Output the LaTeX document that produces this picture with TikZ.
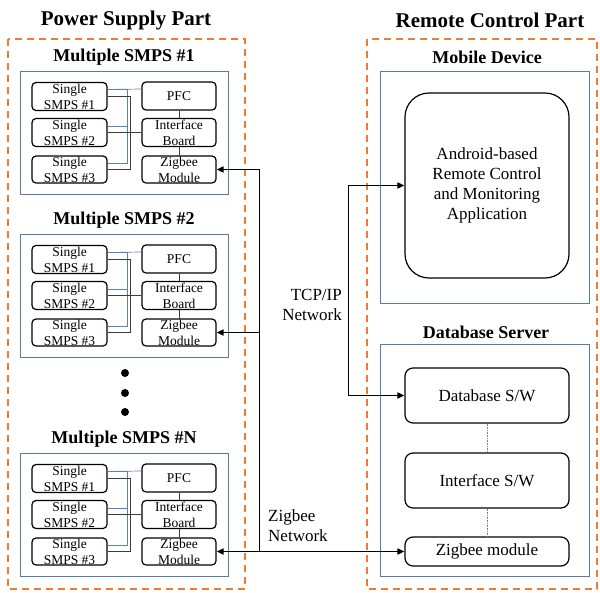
\documentclass[tikz,border=0pt]{standalone}
\usepackage{fontspec}
\setmainfont{Liberation Serif}
\usetikzlibrary{arrows.meta}
\definecolor{partorange}{RGB}{237,125,49}
\definecolor{frameblue}{RGB}{88,122,165}
\definecolor{wireblue}{RGB}{95,125,195}
\definecolor{wiregray}{RGB}{60,60,60}
\tikzset{
  part/.style={draw=partorange, line width=1.8pt, dash pattern=on 7pt off 5pt},
  frame/.style={draw=frameblue, line width=0.9pt},
  unitbox/.style={draw, rounded corners=4pt, line width=1.2pt, minimum width=75pt,
    minimum height=28pt, inner sep=0pt, align=center,
    font=\fontsize{13.5}{16}\selectfont},
  swbox/.style={draw, rounded corners=8pt, line width=1.2pt, minimum width=164pt,
    inner sep=0pt, align=center, font=\fontsize{17}{20}\selectfont},
  parttitle/.style={font=\bfseries\fontsize{21}{24}\selectfont},
  grouptitle/.style={font=\bfseries\fontsize{18}{21}\selectfont},
  nettext/.style={font=\fontsize{17}{20}\selectfont, inner sep=0pt},
  wireb/.style={draw=wireblue, line width=0.7pt},
  wireg/.style={draw=wiregray, line width=0.8pt},
  link/.style={line width=1.7pt},
  tip/.style={-{Triangle[length=7pt,width=6pt]}},
  tips/.style={{Triangle[length=7pt,width=6pt]}-{Triangle[length=7pt,width=6pt]}},
  dbwire/.style={draw=gray, line width=0.6pt, densely dotted},
  dot/.style={circle, fill, inner sep=0pt, minimum size=8pt}
}
\begin{document}
\begin{tikzpicture}[x=1pt,y=-1pt]
\useasboundingbox (0,0) rectangle (600,592);

% the two parts
\draw[part] (8,39) rectangle (245,589);
\draw[part] (367,39) rectangle (597,589);
\node[parttitle] (pstitle) at (126,20) {Power Supply Part};
\node[parttitle] (rctitle) at (490,20) {Remote Control Part};

% multiple SMPS groups: top edge, title suffix, name
\foreach \T/\lab/\g in {71/1/1, 234/2/2, 453/N/N}{
  \draw[frame] (20,\T) rectangle (228,\T+123);
  \node[grouptitle] (title-\g) at (124,\T-14) {Multiple SMPS \#\lab};
  \node[unitbox] (s1-\g) at (69.5,\T+25.5) {Single\\SMPS \#1};
  \node[unitbox] (s2-\g) at (69.5,\T+61.5) {Single\\SMPS \#2};
  \node[unitbox, minimum height=27pt] (s3-\g) at (69.5,\T+98.5) {Single\\SMPS \#3};
  \node[unitbox, minimum width=74pt] (pfc-\g) at (179,\T+25) {PFC};
  \node[unitbox, minimum width=74pt] (ib-\g) at (179,\T+61.5) {Interface\\Board};
  \node[unitbox, minimum width=74pt, minimum height=27pt] (zm-\g) at (179,\T+98.5) {Zigbee\\Module};
  % power wiring
  \draw[wireb] ([yshift=7pt]s1-\g.east) -- ([yshift=7pt]pfc-\g.west);
  \draw[wireb] ([yshift=6pt]s3-\g.east) -- ++(20,0) |- ([yshift=7pt]s1-\g.east);
  \draw[wireb] ([yshift=6pt]s2-\g.east) -- ++(20,0);
  \draw[wireg] (s3-\g.east) -- ++(23,0) |- (s1-\g.east);
  \draw[wireg] (s2-\g.east) -- (ib-\g.west);
  \draw[wireg] (pfc-\g.south) -- (ib-\g.north);
  \draw[wireg] (ib-\g.south) -- (zm-\g.north);
}

% more groups follow
\node[dot] (dot1) at (125,373) {};
\node[dot] (dot2) at (125,393) {};
\node[dot] (dot3) at (125,412) {};

% mobile device
\draw[frame] (380,71) rectangle (589,303);
\node[grouptitle] (mdtitle) at (487,57) {Mobile Device};
\node[draw, rounded corners=24pt, line width=1.2pt, minimum width=164pt,
  minimum height=185pt, align=center, font=\fontsize{17}{20}\selectfont]
  (app) at (487,185.5) {Android-based\\Remote Control\\and Monitoring\\Application};

% database server
\draw[frame] (380,344) rectangle (589,576);
\node[grouptitle] (dstitle) at (486,332) {Database Server};
\node[swbox, minimum height=55pt] (dbsw) at (487,395.5) {Database S/W};
\node[swbox, minimum height=55pt] (isw) at (487,480.5) {Interface S/W};
\node[swbox, minimum height=29pt] (dbz) at (487,551.5) {Zigbee module};
\draw[dbwire] (dbsw.south) -- (isw.north);
\draw[dbwire] (isw.south) -- (dbz.north);

% Zigbee network
\draw[link, tips] (zm-N.east) -- (dbz.west);
\path (zm-N.east) ++(43,0) coordinate (zbus);
\draw[link, tip] (zbus) |- (zm-1.east);
\draw[link, tip] (zbus |- zm-2.east) -- (zm-2.east);
\node[nettext, align=left, anchor=west] (zlabel) at (268,526) {Zigbee\\Network};

% TCP/IP network
\draw[link, tips] (app.west) -- ++(-56,0) |- (dbsw.west);
\node[nettext, align=right, anchor=east] (tlabel) at (342,305) {TCP/IP\\Network};
\end{tikzpicture}
\end{document}
